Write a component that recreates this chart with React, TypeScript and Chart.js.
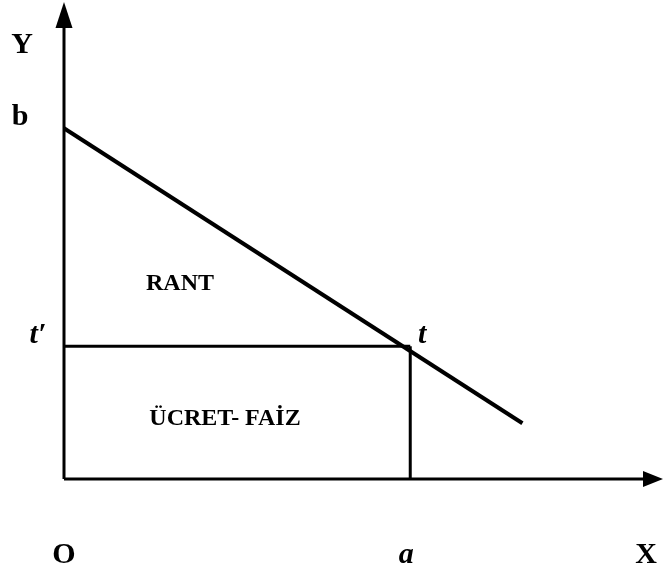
import React, { useEffect, useRef } from "react";
import { Chart, registerables } from "chart.js";

Chart.register(...registerables);

// Axis extents (data units)
const xAxisEnd = 17.3;
const yAxisEnd = 35.9;
// Key values
const pointA = 10; // a on X axis
const pointT = 10; // t' on Y axis
const interceptB = 26.4; // b on Y axis
// Sloping line end points
const slopeX = [0, 13.24];
const slopeY = [interceptB, 4.2];
// Labels
const labelTexts = ["Y", "b", "t\u2032", "t", "O", "a", "X", "RANT", "\u00DCCRET- FA\u0130Z"];
const labelX = [0, 0, 0, pointA, 0, pointA, xAxisEnd, 3.35, 4.65];
const labelY = [yAxisEnd, interceptB, pointT, pointT, 0, 0, 0, 14.2, 4.06];

const labelStyle = [
  { font: "bold 30px 'Liberation Serif'", dx: -42, dy: 51 },
  { font: "bold 30px 'Liberation Serif'", dx: -44, dy: -3 },
  { font: "italic bold 30px 'Liberation Serif'", dx: -26, dy: -3 },
  { font: "italic bold 30px 'Liberation Serif'", dx: 12, dy: -3 },
  { font: "bold 30px 'Liberation Serif'", dx: 0, dy: 84 },
  { font: "italic bold 30px 'Liberation Serif'", dx: -4, dy: 84 },
  { font: "bold 30px 'Liberation Serif'", dx: -17, dy: 84 },
  { font: "bold 24px 'Liberation Serif'", dx: 0, dy: 0 },
  { font: "bold 24px 'Liberation Serif'", dx: 0, dy: 0 },
];

const decorPlugin = {
  id: "decor",
  afterDatasetsDraw(chart: any) {
    const { ctx, scales } = chart;
    const xs = scales.x;
    const ys = scales.y;
    ctx.save();
    ctx.fillStyle = "#000";
    // X arrow
    const xe = xs.getPixelForValue(xAxisEnd);
    const y0 = ys.getPixelForValue(0);
    ctx.beginPath();
    ctx.moveTo(xe, y0);
    ctx.lineTo(xe - 20, y0 - 8);
    ctx.lineTo(xe - 20, y0 + 8);
    ctx.closePath();
    ctx.fill();
    // Y arrow
    const x0 = xs.getPixelForValue(0);
    const ye = ys.getPixelForValue(yAxisEnd);
    ctx.beginPath();
    ctx.moveTo(x0, ye);
    ctx.lineTo(x0 - 8.5, ye + 26);
    ctx.lineTo(x0 + 8.5, ye + 26);
    ctx.closePath();
    ctx.fill();
    // Labels
    ctx.textAlign = "center";
    ctx.textBaseline = "alphabetic";
    labelTexts.forEach((t, i) => {
      const s = labelStyle[i];
      ctx.font = s.font;
      ctx.fillText(t, xs.getPixelForValue(labelX[i]) + s.dx, ys.getPixelForValue(labelY[i]) + s.dy);
    });
    ctx.restore();
  },
};

export default function App() {
  const ref = useRef<HTMLCanvasElement>(null);
  useEffect(() => {
    if (!ref.current) return;
    const lineDs = (data: { x: number; y: number }[], w: number) => ({
      data,
      borderColor: "#000",
      borderWidth: w,
      pointRadius: 0,
      showLine: true,
      fill: false,
      clip: false as any,
      borderCapStyle: "butt" as const,
    });
    const chart = new Chart(ref.current, {
      type: "scatter",
      data: {
        datasets: [
          lineDs([{ x: 0, y: 0 }, { x: xAxisEnd - 0.3, y: 0 }], 3),
          lineDs([{ x: 0, y: 0 }, { x: 0, y: yAxisEnd - 1 }], 3),
          lineDs([{ x: slopeX[0], y: slopeY[0] }, { x: slopeX[1], y: slopeY[1] }], 4),
          lineDs([{ x: 0, y: pointT }, { x: pointA, y: pointT }], 3),
          lineDs([{ x: pointA, y: pointT }, { x: pointA, y: 0 }], 3),
        ],
      },
      options: {
        responsive: false,
        animation: false,
        layout: { padding: { left: 64, right: 0, top: 2, bottom: 94 } },
        plugins: { legend: { display: false }, tooltip: { enabled: false } },
        scales: {
          x: { type: "linear", min: 0, max: xAxisEnd, display: false },
          y: { type: "linear", min: 0, max: yAxisEnd, display: false },
        },
      },
      plugins: [decorPlugin],
    });
    return () => chart.destroy();
  }, []);
  return (
    <div style={{ position: "absolute", left: 0, top: 0, width: 663, height: 573, background: "#fff" }}>
      <canvas ref={ref} width={663} height={573} style={{ display: "block" }} />
    </div>
  );
}
